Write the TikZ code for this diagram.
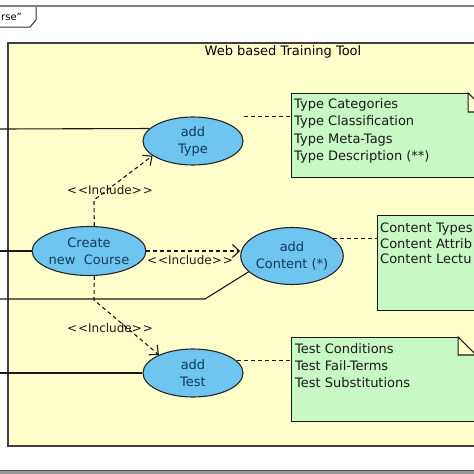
\documentclass[tikz,border=0pt]{standalone}
\usepackage{fontspec}
\setmainfont{DejaVu Sans}
\usetikzlibrary{arrows.meta,shapes.geometric}
\definecolor{bgyellow}{RGB}{255,255,204}
\definecolor{notegreen}{RGB}{200,248,196}
\definecolor{ucblue}{RGB}{110,198,240}
\definecolor{uctext}{RGB}{20,55,95}
\begin{document}
\begin{tikzpicture}[x=1pt,y=-1pt,
  usecase/.style={ellipse, draw=black!85, line width=1.1pt, fill=ucblue, text=uctext, inner sep=0pt, align=center, font=\fontsize{13}{17}\selectfont},
  notetext/.style={anchor=north west, inner sep=0pt, align=left, text=black!90},
  notebox/.style={draw=black!90, line width=1.1pt, fill=notegreen, anchor=north west, inner sep=0pt},
  actorline/.style={draw=black!90, line width=1.1pt},
  include/.style={draw=black!90, line width=1.1pt, dash pattern=on 4pt off 3pt, -{Straight Barb[length=7pt,width=13pt]}},
  notelink/.style={draw=black!90, line width=1.1pt, dash pattern=on 4pt off 3pt},
  lbl/.style={inner sep=0pt, font=\fontsize{12}{14}\selectfont, text=black!90},
  fold/.style={draw=black!90, line width=1.1pt, fill=bgyellow}
]
\useasboundingbox (0,0) rectangle (474,474);
\begin{scope}
\clip (0,0) rectangle (474,474);
\fill[white] (0,0) rectangle (474,474);
% frame
\draw[black!50, line width=1.5pt] (0,6) -- (474,6);
\draw[black!80, line width=1pt] (0,27) -- (30,27) -- (36,20) -- (36,7);
\node[inner sep=0pt, font=\fontsize{10}{12}\selectfont, anchor=west] (tag) at (1,17) {rse"};
% system boundary
\draw[black!75, line width=1.5pt, fill=bgyellow] (8,43) rectangle (490,446);
\node[inner sep=0pt, font=\fontsize{13}{15}\selectfont] (title) at (283,52) {Web based Training Tool};
% bottom band
\fill[black!40] (0,470) rectangle (474,474);
\draw[black!70, line width=0.8pt] (0,470) -- (474,470);

% notes
\node[notebox, minimum width=195, minimum height=84] (tnote) at (291,93) {};
\fill[bgyellow] ([xshift=-19pt,yshift=1pt]tnote.north east) -- ([xshift=1pt,yshift=1pt]tnote.north east) -- ([xshift=1pt,yshift=-19pt]tnote.north east) -- cycle;
\draw[fold] ([xshift=-19pt]tnote.north east) -- ([xshift=-19pt,yshift=-19pt]tnote.north east) -- ([yshift=-19pt]tnote.north east) -- cycle;
\node[notetext, font=\fontsize{13}{17.5}\selectfont] (ttext) at (294,98) {Type Categories\\Type Classification\\Type Meta-Tags\\Type Description (**)};

\node[notebox, minimum width=120, minimum height=95] (cnote) at (377,215) {};
\node[notetext, font=\fontsize{13}{15.5}\selectfont] (ctext) at (380,223) {Content Types\\Content Attrib\\Content Lectu};

\node[notebox, minimum width=184, minimum height=84] (snote) at (291,337) {};
\fill[bgyellow] ([xshift=-18pt,yshift=1pt]snote.north east) -- ([xshift=1pt,yshift=1pt]snote.north east) -- ([xshift=1pt,yshift=-18pt]snote.north east) -- cycle;
\draw[fold] ([xshift=-18pt]snote.north east) -- ([xshift=-18pt,yshift=-18pt]snote.north east) -- ([yshift=-18pt]snote.north east) -- cycle;
\node[notetext, font=\fontsize{13}{17.3}\selectfont] (stext) at (295,343) {Test Conditions\\Test Fail-Terms\\Test Substitutions};

% use cases
\node[usecase, minimum width=100, minimum height=48] (addtype) at (193,141) {add\\Type};
\node[usecase, minimum width=112, minimum height=49] (create) at (89,251) {Create\\new\ \ Course};
\node[usecase, minimum width=100, minimum height=57] (content) at (292,256) {add\\Content (*)};
\node[usecase, minimum width=100, minimum height=48] (test) at (193,373) {add\\Test};

% actor lines
\coordinate (p1) at (0,129);
\coordinate (p2) at (0,251);
\coordinate (p3) at (0,299);
\coordinate (k3) at (205,299);
\coordinate (p4) at (0,373);
\draw[actorline] (p1) -- (addtype.164);
\draw[actorline] (p2) -- (create.west);
\draw[actorline] (p3) -- (k3) -- (content.200);
\draw[actorline] (p4) -- (test.west);

% note links
\draw[notelink] (addtype.north -| addtype.east) -- (addtype.north -| tnote.west);
\draw[notelink] (content.23) -- (content.23 -| cnote.west);
\draw[notelink] (test.16) -- (test.16 -| snote.west);

% includes
\coordinate (b1) at (94,200);
\coordinate (b2) at (94,300);
\draw[include] (create.78) -- (b1) -- (addtype.200);
\draw[include] (create.282) -- (b2) -- (test.152);
\draw[include] (create.east) -- (create.east -| content.west);
\node[lbl] (inc1) at (110,190) {<\kern1pt<Include>\kern1pt>};
\node[lbl] (inc2) at (190,260) {<\kern1pt<Include>\kern1pt>};
\node[lbl] (inc3) at (110,328) {<\kern1pt<Include>\kern1pt>};
\end{scope}
\end{tikzpicture}
\end{document}
